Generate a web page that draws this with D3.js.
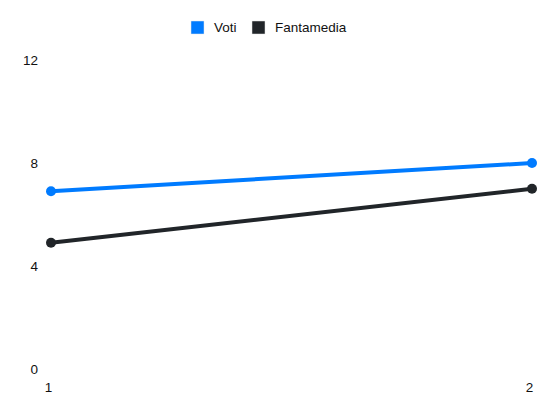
<!DOCTYPE html>
<html>
<head>
<meta charset="utf-8">
<script src="https://cdn.jsdelivr.net/npm/d3@7"></script>
<style>
  body { margin: 0; background: #fff; }
  text { font-family: "Liberation Sans", Arial, sans-serif; font-size: 13.5px; fill: #111; }
</style>
</head>
<body>
<svg id="chart" width="550" height="412"></svg>
<script>
const giornate = [1, 2];
const voti = [6.9, 8];
const fantamedia = [4.9, 7];
const yTicks = [0, 4, 8, 12];

const seriesList = [
    { name: "Voti", values: voti, color: "#007bff" },
    { name: "Fantamedia", values: fantamedia, color: "#212529" }
];

const svg = d3.select("#chart");

const x = d3.scalePoint().domain(giornate).range([51, 532]);
const y = d3.scaleLinear().domain([0, 12]).range([369, 60]);

// y axis labels only, no lines
const yAxis = d3.axisLeft(y).tickValues(yTicks).tickSize(0).tickPadding(0);
svg.append("g")
    .attr("transform", "translate(38,0)")
    .call(yAxis)
    .call(g => g.select(".domain").remove());

// x axis labels
const xAxis = d3.axisBottom(x).tickSize(0).tickPadding(0);
svg.append("g")
    .attr("transform", "translate(-3,382)")
    .call(xAxis)
    .call(g => g.select(".domain").remove());

const line = d3.line()
    .x((d, i) => x(giornate[i]))
    .y(d => y(d));

// draw each series
seriesList.forEach(s => {
    svg.append("path")
        .datum(s.values)
        .attr("d", line)
        .attr("fill", "none")
        .attr("stroke", s.color)
        .attr("stroke-width", 4);

    svg.selectAll(null)
        .data(s.values)
        .enter()
        .append("circle")
        .attr("cx", (d, i) => x(giornate[i]))
        .attr("cy", d => y(d))
        .attr("r", 5)
        .attr("fill", s.color);
});

// legend
const legendX = [191, 252];
const legend = svg.append("g");
seriesList.forEach((s, i) => {
    const g = legend.append("g").attr("transform", `translate(${legendX[i]},21)`);
    g.append("rect")
        .attr("width", 13)
        .attr("height", 13)
        .attr("fill", s.color)
        .attr("stroke", "#e6e6e6")
        .attr("stroke-width", 0.5);
    g.append("text")
        .attr("x", 23)
        .attr("y", 10.8)
        .text(s.name);
});
</script>
</body>
</html>
